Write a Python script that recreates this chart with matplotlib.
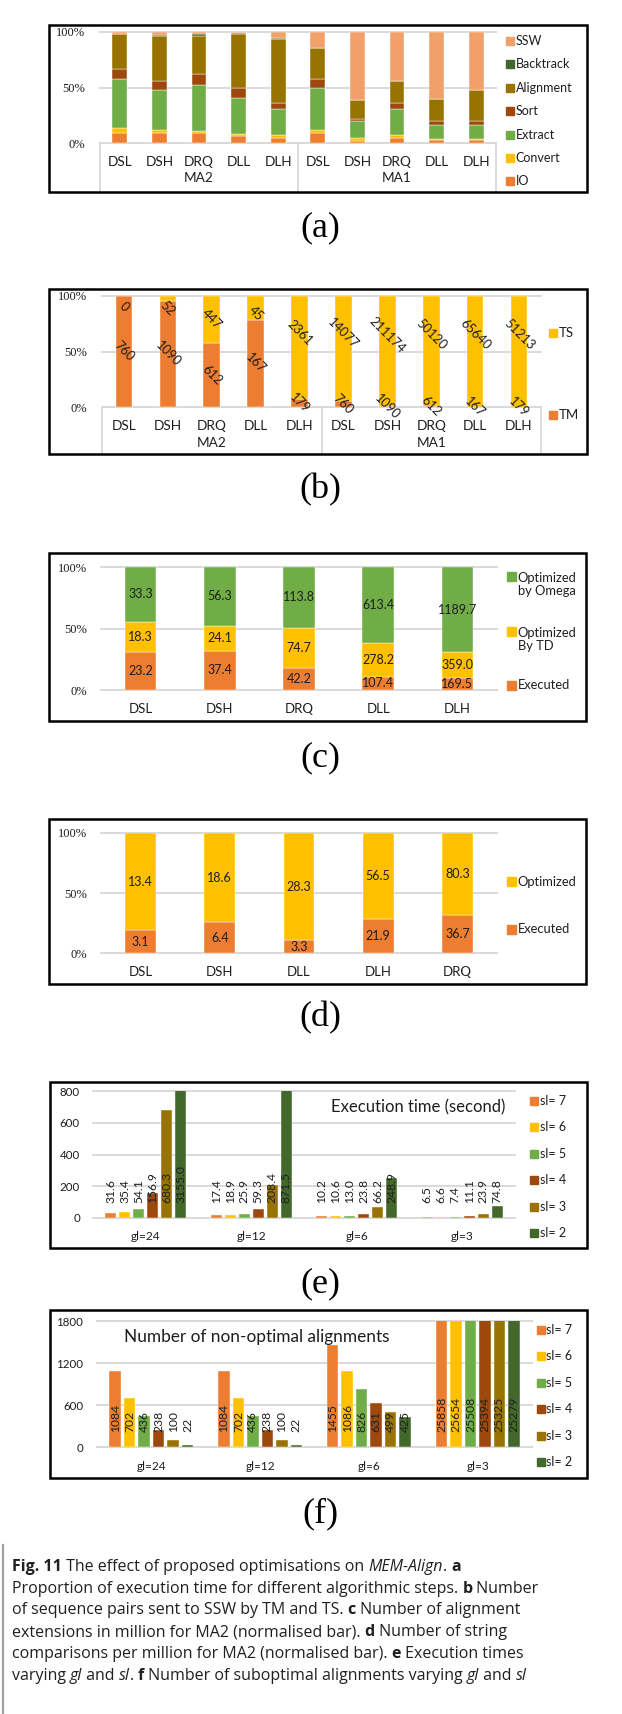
import matplotlib
matplotlib.use("Agg")
import matplotlib.pyplot as plt
import numpy as np
from matplotlib.patches import Rectangle
from matplotlib.lines import Line2D
from matplotlib.text import Annotation
from matplotlib.transforms import blended_transform_factory

# ---------------- data ----------------
# (a) share of execution time per algorithmic step (%), MA2 then MA1
a_groups = ["MA2", "MA1"]
a_datasets = ["DSL", "DSH", "DRQ", "DLL", "DLH"]
a_steps = ["IO", "Convert", "Extract", "Sort", "Alignment", "Backtrack", "SSW"]
a_io = [9.0, 9.0, 9.0, 6.3, 4.5, 9.0, 2.0, 4.8, 2.7, 2.7]
a_convert = [4.2, 2.4, 2.1, 2.1, 2.4, 2.4, 2.4, 2.1, 0.5, 0.5]
a_extract = [44.7, 36.0, 40.8, 32.4, 23.4, 38.0, 15.0, 23.4, 12.9, 12.6]
a_sort = [8.4, 8.4, 10.5, 8.4, 6.0, 8.1, 2.1, 5.7, 3.6, 3.6]
a_alignment = [32.0, 40.5, 34.2, 49.2, 57.7, 28.2, 17.4, 19.8, 19.8, 27.9]
a_backtrack = [0.3, 1.2, 1.2, 0.3, 0.3, 0.3, 0.1, 0.3, 0.1, 0.1]
a_ssw = [1.4, 2.5, 2.2, 1.3, 5.7, 14.0, 61.0, 43.9, 60.4, 52.6]

# (b) sequence pairs sent to SSW by TM and TS
b_series = ["TM", "TS"]
b_tm = [760, 1090, 612, 167, 179, 760, 1090, 612, 167, 179]
b_ts = [0, 52, 447, 45, 2361, 14077, 211174, 50120, 65640, 51213]

# (c) alignment extensions (million), MA2
c_cats = ["DSL", "DSH", "DRQ", "DLL", "DLH"]
c_series = ["Executed", "Optimized\nBy TD", "Optimized\nby Omega"]
c_executed = [23.2, 37.4, 42.2, 107.4, 169.5]
c_td = [18.3, 24.1, 74.7, 278.2, 359.0]
c_omega = [33.3, 56.3, 113.8, 613.4, 1189.7]

# (d) string comparisons (million), MA2
d_cats = ["DSL", "DSH", "DLL", "DLH", "DRQ"]
d_series = ["Executed", "Optimized"]
d_executed = [3.1, 6.4, 3.3, 21.9, 36.7]
d_optimized = [13.4, 18.6, 28.3, 56.5, 80.3]

# (e) execution time (s) and (f) non-optimal alignments, by gl and sl
gl_labels = ["gl=24", "gl=12", "gl=6", "gl=3"]
sl_labels = ["sl= 7", "sl= 6", "sl= 5", "sl= 4", "sl= 3", "sl= 2"]
e_ticks = [0, 200, 400, 600, 800]
e_sl7 = [31.6, 17.4, 10.2, 6.5]
e_sl6 = [35.4, 18.9, 10.6, 6.6]
e_sl5 = [54.1, 25.9, 13.0, 7.4]
e_sl4 = [156.9, 59.3, 23.8, 11.1]
e_sl3 = [680.3, 208.4, 66.2, 23.9]
e_sl2 = [3155.0, 871.5, 248.9, 74.8]
f_ticks = [0, 600, 1200, 1800]
f_sl7 = [1084, 1084, 1455, 25858]
f_sl6 = [702, 702, 1086, 25654]
f_sl5 = [436, 436, 826, 25508]
f_sl4 = [238, 238, 631, 25394]
f_sl3 = [100, 100, 499, 25325]
f_sl2 = [22, 22, 425, 25279]

# ---------------- styling ----------------
W, H = 622, 1714
SANS = ["Lato", "DejaVu Sans"]
SERIF = ["Liberation Serif", "DejaVu Serif"]
CAPFONT = ["Open Sans", "DejaVu Sans"]
GRID = "#D9D9D9"
TXT = "#1e1e1e"
ORANGE, GOLD, GREEN = "#ED7D31", "#FFC000", "#70AD47"
RUST, OLIVE, DKGREEN, SALMON = "#9E480E", "#997300", "#43682B", "#F2A06A"
a_colors = [ORANGE, GOLD, GREEN, RUST, OLIVE, DKGREEN, SALMON]
sl_colors = [ORANGE, GOLD, GREEN, RUST, OLIVE, DKGREEN]

fig = plt.figure(figsize=(W / 100, H / 100), dpi=100)
fig.patch.set_facecolor("white")


def fx(x):
    return x / W


def fy(y):
    return 1 - y / H


def frame(x0, y0, x1, y1):
    fig.add_artist(Rectangle((fx(x0), fy(y1)), (x1 - x0) / W, (y1 - y0) / H,
                             transform=fig.transFigure, fill=False,
                             ec="black", lw=1.8, zorder=5))


def plot_axes(x0, y0, x1, y1, ylim, ticks, ticklabels, family, size, pad_px):
    ax = fig.add_axes([fx(x0), fy(y1), (x1 - x0) / W, (y1 - y0) / H])
    ax.set_ylim(*ylim)
    for s in ax.spines.values():
        s.set_visible(False)
    ax.set_yticks(ticks)
    ax.set_yticklabels(ticklabels, fontfamily=family, fontsize=size, color=TXT)
    ax.tick_params(axis="y", length=0, pad=pad_px * 0.72)
    ax.set_xticks([])
    ax.yaxis.grid(True, color=GRID, lw=1.4)
    ax.set_axisbelow(True)
    for g in ax.get_ygridlines():
        g.set_clip_on(False)
    return ax


def cat_text(ax, x, y_px, text, size=9.8, **kw):
    trans = blended_transform_factory(ax.transData, fig.transFigure)
    ax.text(x, fy(y_px), text, transform=trans, ha="center", va="center",
            fontfamily=SANS, fontsize=size, color=TXT, **kw)


def box_line(ax, x, y0_px, y1_px):
    trans = blended_transform_factory(ax.transData, fig.transFigure)
    ax.add_line(Line2D([x, x], [fy(y0_px), fy(y1_px)], transform=trans,
                       color=GRID, lw=1.3, clip_on=False))


def side_legend(labels, colors, x_sq, ys, sq=8, size=9, first_line=None):
    for i, (lab, col, y) in enumerate(zip(labels, colors, ys)):
        ysq = y if first_line is None else first_line[i]
        fig.add_artist(Rectangle((fx(x_sq), fy(ysq + sq / 2)), sq / W, sq / H,
                                 transform=fig.transFigure, color=col))
        fig.text(fx(x_sq + sq + 1.5), fy(y), lab, ha="left", va="center",
                 fontfamily=SANS, fontsize=size, color=TXT, linespacing=1.15)


def panel_tag(y_px, tag):
    fig.text(fx(320), fy(y_px), tag, ha="center", va="center",
             fontfamily=SERIF, fontsize=26, color="black")


pct_ticks = [0, 0.5, 1]
pct_labels = ["0%", "50%", "100%"]

# ---------------- (a) ----------------
frame(49, 25, 587, 192)
ax = plot_axes(100, 32, 496, 143, (0, 1), pct_ticks, pct_labels, SERIF, 9, 15)
a_stack = np.array([a_io, a_convert, a_extract, a_sort, a_alignment,
                    a_backtrack, a_ssw], dtype=float)
a_stack = a_stack / a_stack.sum(axis=0)
xa = np.arange(a_stack.shape[1])
bottom = np.zeros(len(xa))
for vals, col in zip(a_stack, a_colors):
    ax.bar(xa, vals, 0.37, bottom=bottom, color=col, edgecolor="white", lw=0.3)
    bottom += vals
ax.set_xlim(-0.5, len(xa) - 0.5)
for i, x in enumerate(xa):
    cat_text(ax, x, 162, a_datasets[i % len(a_datasets)])
for g, name in enumerate(a_groups):
    cat_text(ax, g * 5 + 2, 177.5, name)
for x in (-0.5, 4.5, 9.5):
    box_line(ax, x, 143, 192)
side_legend(a_steps[::-1], a_colors[::-1], 506, [41 + 23.4 * i for i in range(7)],
            sq=8, size=9)
panel_tag(228, "(a)")

# ---------------- (b) ----------------
frame(49, 289, 587, 454)
ax = plot_axes(102, 296, 541, 407, (0, 1), pct_ticks, pct_labels, SERIF, 9, 15)
tm = np.array(b_tm, dtype=float)
ts = np.array(b_ts, dtype=float)
tm_f = tm / (tm + ts)
ts_f = ts / (tm + ts)
xb = np.arange(len(tm))
ax.bar(xb, tm_f, 0.38, color=ORANGE, edgecolor="white", lw=0.3)
ax.bar(xb, ts_f, 0.38, bottom=tm_f, color=GOLD, edgecolor="white", lw=0.3)
ax.set_xlim(-0.5, len(xb) - 0.5)
for i in range(len(xb)):
    ax.text(xb[i], tm_f[i] / 2, f"{b_tm[i]}", rotation=-45, rotation_mode="anchor",
            ha="center", va="center", fontfamily=SANS, fontsize=9.3, color=TXT)
    ts_mid = (tm_f[i] + 1) / 2
    ax.text(xb[i], 0.5 * ts_mid + 0.4, f"{b_ts[i]}", rotation=-45,
            rotation_mode="anchor", ha="center", va="center",
            fontfamily=SANS, fontsize=9.3, color=TXT)
for i, x in enumerate(xb):
    cat_text(ax, x, 426, a_datasets[i % len(a_datasets)])
for g, name in enumerate(a_groups):
    cat_text(ax, g * 5 + 2, 443, name)
for x in (-0.5, 4.5, 9.5):
    box_line(ax, x, 407, 454)
side_legend(["TS", "TM"], [GOLD, ORANGE], 549, [333, 415], sq=8, size=9.5)
panel_tag(490, "(b)")

# ---------------- (c) ----------------
frame(49, 553, 586, 721)
ax = plot_axes(101, 567, 497, 690, (0, 1), pct_ticks, pct_labels, SERIF, 9, 13.5)
c_stack = np.array([c_executed, c_td, c_omega], dtype=float)
c_raw = c_stack.copy()
c_stack = c_stack / c_stack.sum(axis=0)
xc = np.arange(len(c_cats))
bottom = np.zeros(len(xc))
for vals, raw, col in zip(c_stack, c_raw, [ORANGE, GOLD, GREEN]):
    ax.bar(xc, vals, 0.40, bottom=bottom, color=col, edgecolor="white", lw=0.3)
    for x, b, v, r in zip(xc, bottom, vals, raw):
        ax.text(x, b + v / 2, f"{r:.1f}", ha="center", va="center",
                fontfamily=SANS, fontsize=9, color=TXT)
    bottom += vals
ax.set_xlim(-0.5, len(xc) - 0.5)
for x, name in zip(xc, c_cats):
    cat_text(ax, x, 709, name, size=9.5)
side_legend(c_series[::-1], [GREEN, GOLD, ORANGE], 507, [584.5, 639.5, 685],
            sq=9, size=9.3, first_line=[576, 631, 685])
panel_tag(758, "(c)")

# ---------------- (d) ----------------
frame(49, 819, 586, 984)
ax = plot_axes(101, 833, 497, 953, (0, 1), pct_ticks, pct_labels, SERIF, 9, 13.5)
d_stack = np.array([d_executed, d_optimized], dtype=float)
d_raw = d_stack.copy()
d_stack = d_stack / d_stack.sum(axis=0)
xd = np.arange(len(d_cats))
bottom = np.zeros(len(xd))
for vals, raw, col in zip(d_stack, d_raw, [ORANGE, GOLD]):
    ax.bar(xd, vals, 0.39, bottom=bottom, color=col, edgecolor="white", lw=0.3)
    for x, b, v, r in zip(xd, bottom, vals, raw):
        ax.text(x, b + v / 2, f"{r:.1f}", ha="center", va="center",
                fontfamily=SANS, fontsize=9, color=TXT)
    bottom += vals
ax.set_xlim(-0.5, len(xd) - 0.5)
for x, name in zip(xd, d_cats):
    cat_text(ax, x, 972, name, size=9.5)
side_legend(d_series[::-1], [GOLD, ORANGE], 507, [882, 929], sq=9, size=9.3)
panel_tag(1018, "(d)")


# ---------------- (e) and (f): grouped bars ----------------
def grouped(ax, series, fmt):
    pitch, width = 0.133, 0.106
    xg = np.arange(len(gl_labels))
    lab_trans = blended_transform_factory(ax.transData, ax.transAxes)
    for i, (vals, col) in enumerate(zip(series, sl_colors)):
        xs = xg + (i - 2.5) * pitch
        ax.bar(xs, vals, width, color=col, edgecolor="white", lw=0.3)
        for x, v in zip(xs, vals):
            ax.text(x, 0.122, fmt.format(v), transform=lab_trans, rotation=90,
                    ha="center", va="bottom", fontfamily=SANS, fontsize=8.7,
                    color=TXT)
    ax.set_xlim(-0.5, len(xg) - 0.5)
    return xg


frame(50, 1082, 587, 1248)
ax = plot_axes(93, 1091, 515, 1218, (0, 800), e_ticks, [str(t) for t in e_ticks],
               SANS, 8.3, 13)
xg = grouped(ax, [e_sl7, e_sl6, e_sl5, e_sl4, e_sl3, e_sl2], "{:.1f}")
for x, name in zip(xg, gl_labels):
    cat_text(ax, x, 1237, name, size=8.6)
fig.text(fx(418), fy(1107), "Execution time (second)", ha="center", va="center",
         fontfamily=SANS, fontsize=12, color=TXT)
side_legend(sl_labels, sl_colors, 530, [1101 + 26.4 * i for i in range(6)],
            sq=8, size=9)
panel_tag(1284, "(e)")

frame(50, 1310, 587, 1478)
ax = plot_axes(97, 1321, 532, 1447, (0, 1800), f_ticks, [str(t) for t in f_ticks],
               SANS, 8.3, 14)
xg = grouped(ax, [f_sl7, f_sl6, f_sl5, f_sl4, f_sl3, f_sl2], "{}")
for x, name in zip(xg, gl_labels):
    cat_text(ax, x, 1467, name, size=8.6)
fig.text(fx(124), fy(1337), "Number of non-optimal alignments", ha="left",
         va="center", fontfamily=SANS, fontsize=12.4, color=TXT)
side_legend(sl_labels, sl_colors, 537, [1330 + 26.4 * i for i in range(6)],
            sq=8, size=9)
panel_tag(1514, "(f)")

# ---------------- caption ----------------
B, R, I = "bold", "normal", "italic"
caption_lines = [
    [("Fig. 11", B), (" The effect of proposed optimisations on ", R),
     ("MEM-Align", I), (". ", R), ("a", B)],
    [("Proportion of execution time for different algorithmic steps. ", R),
     ("b", B), (" Number", R)],
    [("of sequence pairs sent to SSW by TM and TS. ", R), ("c", B),
     (" Number of alignment", R)],
    [("extensions in million for MA2 (normalised bar). ", R), ("d", B),
     (" Number of string", R)],
    [("comparisons per million for MA2 (normalised bar). ", R), ("e", B),
     (" Execution times", R)],
    [("varying ", R), ("gl", I), (" and ", R), ("sl", I), (". ", R), ("f", B),
     (" Number of suboptimal alignments varying ", R), ("gl", I), (" and ", R),
     ("sl", I)],
]
CAP_FS = 11.5
fig.add_artist(Line2D([fx(3), fx(3)], [fy(1545), fy(1714)],
                      transform=fig.transFigure, color="#A0A0A0", lw=1.6))
for li, pieces in enumerate(caption_lines):
    y = 1571 + 21.7 * li
    prev = None
    for txt, kind in pieces:
        kw = dict(fontfamily=CAPFONT, fontsize=CAP_FS, color="#231F20",
                  fontweight="bold" if kind == B else "normal",
                  fontstyle="italic" if kind == I else "normal")
        if prev is None:
            prev = fig.text(fx(12), fy(y), txt, ha="left", va="baseline", **kw)
        else:
            ann = Annotation(txt, xy=(1, 0), xycoords=prev, ha="left",
                             va="bottom", **kw)
            fig.add_artist(ann)
            prev = ann

fig.savefig("out.png", dpi=100, facecolor="white")
